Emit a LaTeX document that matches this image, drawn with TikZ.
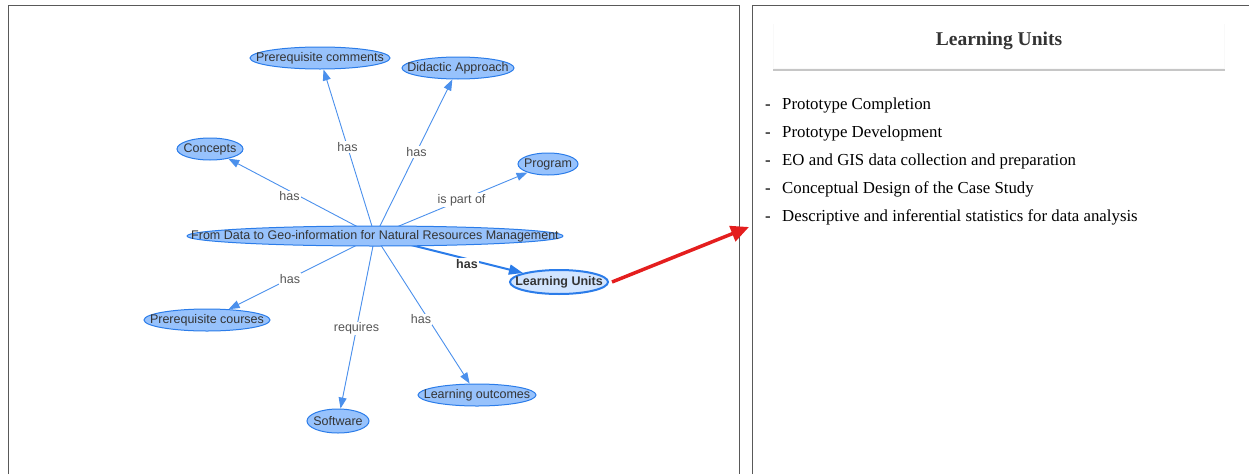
\documentclass[tikz,border=0pt]{standalone}
\usepackage{fontspec}
\setmainfont{Liberation Serif}
\newfontfamily\visfont{Liberation Sans}
\usetikzlibrary{shapes.geometric,arrows.meta,backgrounds,calc}

\definecolor{visfill}{HTML}{97C2FC}
\definecolor{visborder}{HTML}{2B7CE9}
\definecolor{vislight}{HTML}{D2E5FF}
\definecolor{vistext}{HTML}{343434}
\definecolor{edgetext}{HTML}{555555}
\definecolor{pointer}{HTML}{E41E1E}

% text of a concept, kept out of the ellipse size
\newcommand{\ctext}[1]{\makebox[0pt]{#1}}

\begin{document}
\begin{tikzpicture}[x=1pt, y=-1pt,
  concept/.style={ellipse, draw=visborder, fill=visfill, line width=1pt,
    inner sep=0pt, minimum height=22pt, text=vistext,
    font=\visfont\fontsize{12.5}{14}\selectfont},
  chosen/.style={concept, fill=vislight, line width=2pt,
    font=\visfont\bfseries\fontsize{12.5}{14}\selectfont},
  rel/.style={draw=visborder!85!white, line width=0.9pt,
    -{Triangle[length=11pt, width=8pt]}},
  relbold/.style={rel, draw=visborder, line width=2pt,
    -{Triangle[length=14pt, width=10pt]}},
  lbl/.style={fill=white, inner sep=1pt, text=edgetext,
    font=\visfont\fontsize{12.5}{14}\selectfont},
  item/.style={anchor=base west, inner sep=0pt, text=black,
    font=\fontsize{16.8}{19}\selectfont}]

\useasboundingbox (0,0) rectangle (1249,474);

% frames of the two panels
\draw[gray!70!black, line width=1pt] (8.5,474) -- (8.5,5.5) -- (739.5,5.5) -- (739.5,474);
\draw[gray!70!black, line width=1pt] (752,474) -- (752,5.5) -- (1249,5.5);

% concept map
\node[concept, minimum width=376pt, minimum height=20pt] (main) at (375,236)
  {\ctext{From Data to Geo-information for Natural Resources Management}};
\node[concept, minimum width=140pt] (prcom) at (320,58) {\ctext{Prerequisite comments}};
\node[concept, minimum width=112pt] (didac) at (458,68) {\ctext{Didactic Approach}};
\node[concept, minimum width=66pt] (conc) at (210,149) {\ctext{Concepts}};
\node[concept, minimum width=60pt] (prog) at (548,164) {\ctext{Program}};
\node[chosen, minimum width=98pt, minimum height=24pt] (units) at (559,282) {\ctext{Learning Units}};
\node[concept, minimum width=126pt] (prcou) at (207,320) {\ctext{Prerequisite courses}};
\node[concept, minimum width=62pt, minimum height=24pt] (soft) at (338,421) {\ctext{Software}};
\node[concept, minimum width=118pt] (outc) at (477,395) {\ctext{Learning outcomes}};

\begin{scope}[on background layer]
\draw[rel] (main.center) -- (prcom);
\draw[rel] (main.center) -- (didac);
\draw[rel] (main.center) -- (conc);
\draw[rel] (main.center) -- (prog);
\draw[rel] (main.center) -- (prcou);
\draw[rel] (main.center) -- (soft);
\draw[rel] (main.center) -- (outc);
\draw[relbold] (main.center) -- (units);
% labels sit half way between the centres
\node[lbl] (lprcom) at ($(main)!.5!(prcom)$) {has};
\node[lbl] (ldidac) at ($(main)!.5!(didac)$) {has};
\node[lbl] (lconc) at ($(main)!.5!(conc)+(-3,4)$) {has};
\node[lbl] (lprog) at ($(main)!.5!(prog)$) {is part of};
\node[lbl] (lprcou) at ($(main)!.5!(prcou)+(-1,1)$) {has};
\node[lbl] (lsoft) at ($(main)!.5!(soft)$) {requires};
\node[lbl] (loutc) at ($(main)!.5!(outc)+(-5,4)$) {has};
\node[lbl, text=vistext, font=\visfont\bfseries\fontsize{12.5}{14}\selectfont]
  (lunits) at ($(main)!.5!(units)+(0,5)$) {has};
\end{scope}

% pointer to the detail panel
\coordinate (detail) at (749,227);
\draw[pointer, line width=3.5pt, -{Triangle[length=18pt, width=16pt]}]
  (units.east) ++(3,0) -- (detail);

% detail panel
\fill[gray!5] (773,24) rectangle (1225,71);
\fill[white] (774,24) rectangle (1224,68);
\draw[gray!45, line width=2.5pt] (773,70) -- (1225,70);
\node[font=\bfseries\fontsize{19.5}{22}\selectfont, text=black!80] (title) at (999,41) {Learning Units};

\foreach \txt [count=\i] in {Prototype Completion, Prototype Development,
    EO and GIS data collection and preparation, Conceptual Design of the Case Study,
    Descriptive and inferential statistics for data analysis} {
  \node[item] (dash\i) at (765,81+28*\i) {-};
  \node[item] (unit\i) at (782,81+28*\i) {\txt};
}
\end{tikzpicture}
\end{document}
